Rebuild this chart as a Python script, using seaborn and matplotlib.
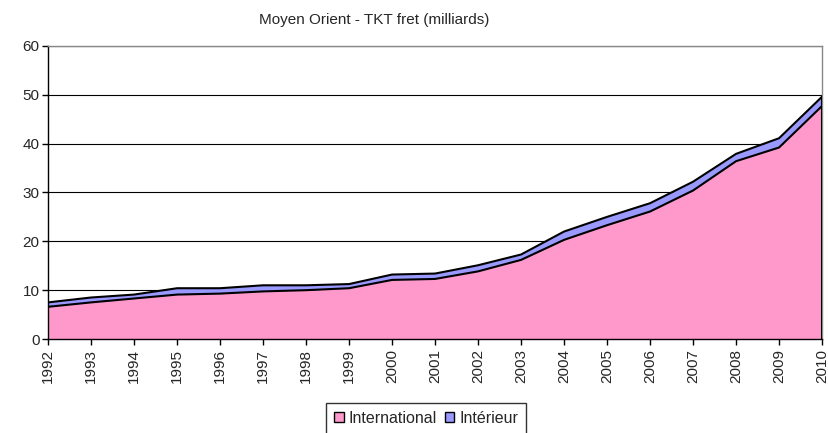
import matplotlib
matplotlib.use('Agg')
import matplotlib.pyplot as plt
import seaborn as sns
import pandas as pd
from matplotlib.patches import Patch

years = list(range(1992, 2011))
international = [6.6, 7.5, 8.3, 9.1, 9.3, 9.75, 10.0, 10.4, 12.1, 12.3,
                 13.85, 16.2, 20.3, 23.3, 26.1, 30.4, 36.4, 39.2, 47.7]
interieur = [0.9, 1.0, 0.8, 1.3, 1.1, 1.25, 1.0, 0.85, 1.1, 1.1,
             1.25, 1.1, 1.7, 1.7, 1.7, 1.8, 1.5, 1.9, 1.9]

df = pd.DataFrame({'year': years, 'International': international, 'Intérieur': interieur})
df['total'] = df['International'] + df['Intérieur']

sns.set_style('white')
plt.rcParams['font.family'] = ['Liberation Sans', 'DejaVu Sans']

fig = plt.figure(figsize=(8.29, 4.33), dpi=100)
ax = fig.add_axes([0.058, 0.217, 0.9336, 0.677])

pink = '#FF99CC'
blue = '#9999FF'

# stacked areas
ax.fill_between(df['year'], 0, df['International'], color=pink, zorder=2, linewidth=0)
ax.fill_between(df['year'], df['International'], df['total'], color=blue, zorder=2, linewidth=0)
sns.lineplot(x='year', y='International', data=df, ax=ax, color='black', linewidth=1.5, zorder=3)
sns.lineplot(x='year', y='total', data=df, ax=ax, color='black', linewidth=1.5, zorder=3)
ax.plot([2010, 2010], [0, df['total'].iloc[-1]], color='black', linewidth=1.5, zorder=3)

ax.set_xlim(1992, 2010)
ax.set_ylim(0, 60)
ax.set_yticks(range(0, 61, 10))
ax.set_xticks(years)
ax.set_xticklabels([str(y) for y in years], rotation=90, fontsize=11)
ax.tick_params(axis='y', labelsize=11, length=4, direction='out', left=True, color='black', width=1, pad=2)
ax.tick_params(axis='x', length=4, direction='out', bottom=True, color='black', width=1, pad=3)
ax.yaxis.grid(True, color='black', linewidth=0.8, zorder=1)
ax.set_axisbelow(True)
ax.set_xlabel('')
ax.set_ylabel('')

for side in ['top', 'right']:
    ax.spines[side].set_color('#888888')
    ax.spines[side].set_linewidth(1)
for side in ['left', 'bottom']:
    ax.spines[side].set_color('black')
    ax.spines[side].set_linewidth(1)

fig.text(0.451, 0.953, 'Moyen Orient - TKT fret (milliards)', fontsize=11, ha='center', va='center')

handles = [Patch(facecolor=pink, edgecolor='black', label='International'),
           Patch(facecolor=blue, edgecolor='black', label='Intérieur')]
leg = fig.legend(handles=handles, loc='upper center', bbox_to_anchor=(0.514, 0.07), ncol=2,
                 fontsize=11.5, frameon=True, fancybox=False, handlelength=0.6, handleheight=0.6,
                 handletextpad=0.3, columnspacing=0.5, borderpad=0.5, borderaxespad=0,
                 edgecolor='black')
leg.get_frame().set_linewidth(1)

fig.savefig('out.png', dpi=100)
